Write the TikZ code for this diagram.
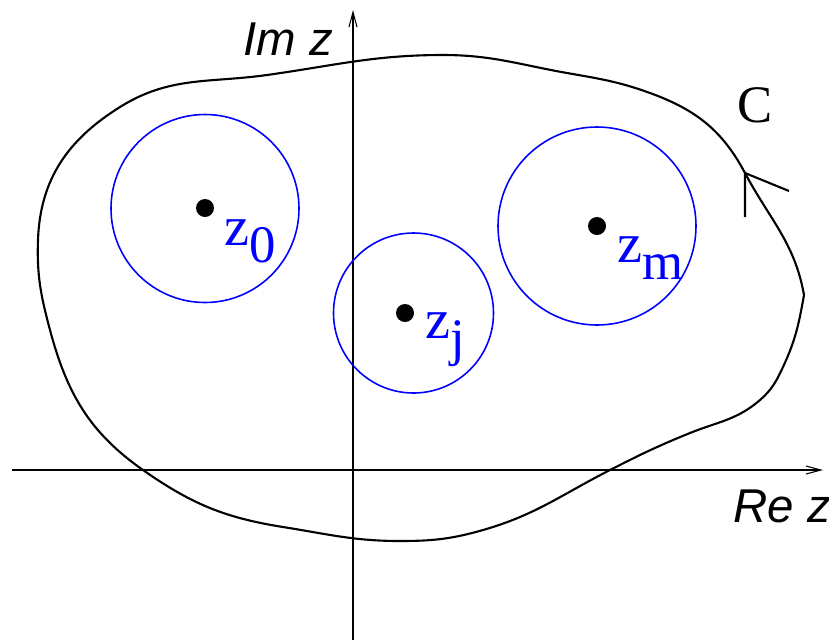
\documentclass[tikz,border=0pt]{standalone}
\usepackage{fontspec}
\setmainfont{Liberation Serif}
\setsansfont{Liberation Sans}
\usetikzlibrary{arrows.meta}
\definecolor{PureBlue}{RGB}{0,0,255}
\tikzset{
  axis/.style={line width=0.3pt,-{Straight Barb[length=1.5mm,width=0.8mm]}},
  contour/.style={line width=0.6pt,black},
  disc/.style={draw=PureBlue,line width=0.45pt},
  pole/.style={circle,fill=black,inner sep=0pt,minimum size=1.8mm},
  polelabel/.style={anchor=base west,inner sep=0pt,text=PureBlue,
    font=\fontsize{16}{16}\selectfont},
  axislabel/.style={anchor=base west,inner sep=0pt,
    font=\sffamily\itshape\fontsize{13.5}{13.5}\selectfont}
}
\newcommand{\polesub}[1]{\raisebox{-0.17cm}{\fontsize{15}{15}\selectfont #1}}

\begin{document}
\begin{tikzpicture}[x=1cm,y=1cm]
  \useasboundingbox (-3.53,-1.70) rectangle (4.76,4.70);
  \draw[axis] (-3.41,0) -- (4.70,0);
  \draw[axis] (0,-1.70) -- (0,4.60);
  \node[axislabel] (imz) at (-1.10,4.15) {Im z};
  \node[axislabel] (rez) at (3.80,-0.52) {Re z};
  \draw[contour] (-3.15,2.30) to[out=88,in=212] (-2.33,3.63)
    to[out=32,in=188] (-0.86,3.95)
    to[out=8,in=180] (0.90,4.15)
    to[out=0,in=170] (2.14,3.97)
    to[out=-10,in=160] (2.97,3.77)
    to[out=-20,in=118] (3.92,2.97)
    to[out=-62,in=100] (4.51,1.75)
    to[out=-100,in=65] (4.30,1.03)
    to[out=-115,in=41] (4.07,0.70)
    to[out=221,in=22] (3.37,0.37)
    to[out=202,in=27] (2.57,0.00)
    to[out=207,in=16] (1.30,-0.60)
    to[out=196,in=0] (0.47,-0.71)
    to[out=180,in=-9] (-0.70,-0.57)
    to[out=171,in=-35] (-2.10,0.00)
    to[out=145,in=-75] (-3.03,1.40)
    to[out=105,in=-92] cycle;
  \coordinate (tip) at (3.92,2.97);
  \draw[contour] (3.92,2.53) -- (tip) -- (4.36,2.79);
  \node[anchor=base west,inner sep=0pt,font=\fontsize{15}{15}\selectfont]
    (cname) at (3.84,3.48) {C};
  \draw[disc] (-1.48,2.615) circle (0.94);
  \draw[disc] (0.605,1.57) circle (0.80);
  \draw[disc] (2.44,2.44) circle (0.99);
  \node[pole] (p0) at (-1.48,2.62) {};
  \node[pole] (pj) at (0.52,1.57) {};
  \node[pole] (pm) at (2.44,2.44) {};
  \node[polelabel] (l0) at (-1.29,2.25) {z\polesub{0}};
  \node[polelabel] (lj) at (0.72,1.32) {z\polesub{j}};
  \node[polelabel] (lm) at (2.64,2.08) {z\polesub{m}};
\end{tikzpicture}
\end{document}
